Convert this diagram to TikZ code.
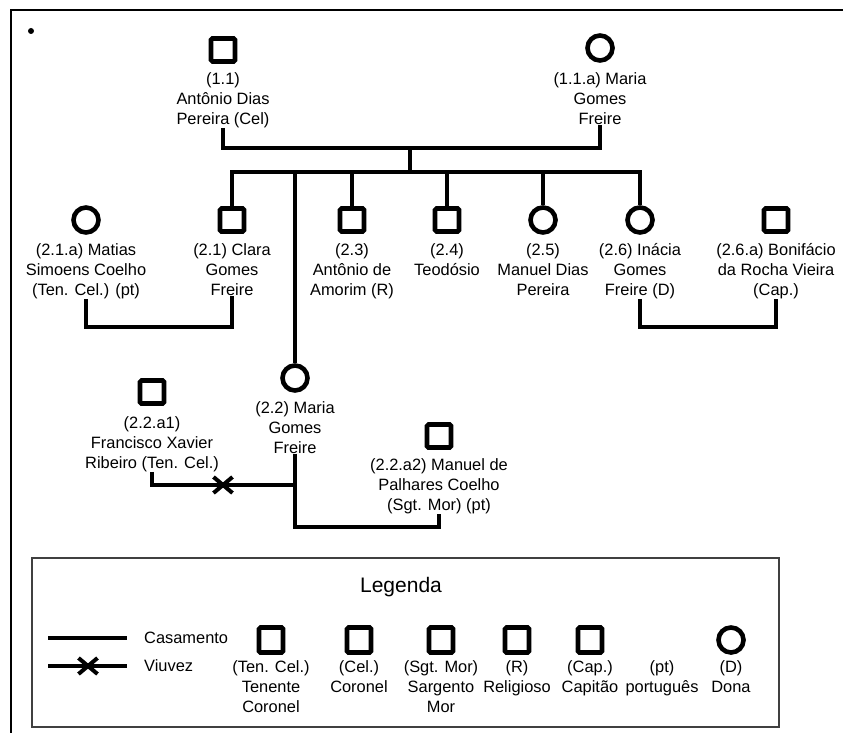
\documentclass[tikz,border=0pt]{standalone}
\usepackage{fontspec}
\setmainfont{Liberation Sans}
\usetikzlibrary{shapes.misc}
\newcommand\labfont{\fontsize{16.4}{20}\selectfont}
\begin{document}
\begin{tikzpicture}[x=1pt,y=-1pt,
  sq/.style={draw, line width=4.6pt, rounded corners=1.5pt, minimum width=24pt, minimum height=23pt, inner sep=0},
  sqL/.style={sq, minimum height=25pt},
  fem/.style={draw, circle, line width=4.6pt, minimum size=25pt, inner sep=0},
  lab/.style={align=center, anchor=north, inner sep=0, font=\labfont},
  rel/.style={line width=4.2pt},
  xmk/.style={draw, cross out, line width=4pt, minimum width=15pt, minimum height=12pt, inner sep=0},
  leglab/.style={anchor=west, inner sep=0, font=\labfont}]
\useasboundingbox (0,0) rectangle (843,733);
% frame
\draw[line width=2.6pt, line join=miter] (11,733) -- (11,10) -- (843,10);
\fill (31,31) circle (3pt);

% generation 1
\node[sq] (p11) at (223,50) {};
\node[lab] (p11l) at (223,70) {\strut(1.1)\\Antônio Dias\\Pereira (Cel)};
\node[fem] (p11a) at (600,48) {};
\node[lab] (p11al) at (600,70) {\strut(1.1.a) Maria\\Gomes\\Freire};
\coordinate (m1) at (410,148);
\coordinate (b1) at (410,172);
\draw[rel] (p11l.south) |- (m1) -| (p11al.south);
\draw[rel] (m1) -- (b1);

% generation 2
\node[fem] (p21a) at (86,220) {};
\node[sq] (p21) at (232,220) {};
\node[sq] (p23) at (352,220) {};
\node[sq] (p24) at (447,220) {};
\node[fem] (p25) at (543,220) {};
\node[fem] (p26) at (640,220) {};
\node[sq] (p26a) at (776,220) {};
\node[lab] (p21al) at (86,241) {\strut(2.1.a) Matias\\Simoens Coelho\\(Ten. Cel.) (pt)};
\node[lab] (p21l) at (232,241) {\strut(2.1) Clara\\Gomes\\Freire};
\node[lab] (p23l) at (352,241) {\strut(2.3)\\Antônio de\\Amorim (R)};
\node[lab] (p24l) at (447,241) {\strut(2.4)\\Teodósio};
\node[lab] (p25l) at (543,241) {\strut(2.5)\\Manuel Dias\\Pereira};
\node[lab] (p26l) at (640,241) {\strut(2.6) Inácia\\Gomes\\Freire (D)};
\node[lab] (p26al) at (776,241) {\strut(2.6.a) Bonifácio\\da Rocha Vieira\\(Cap.)};

\draw[rel] (p21.north) |- (b1) -| (p26.north);
\draw[rel] (p23.north) -- (p23.north |- b1);
\draw[rel] (p24.north) -- (p24.north |- b1);
\draw[rel] (p25.north) -- (p25.north |- b1);

\coordinate (c21) at (160,327);
\draw[rel] (p21al.south) |- (c21) -| (p21l.south);
\coordinate (c26) at (700,327);
\draw[rel] (p26l.south) |- (c26) -| (p26al.south);

% (2.2) branch
\node[fem] (p22) at (295,378) {};
\node[lab] (p22l) at (295,399) {\strut(2.2) Maria\\Gomes\\Freire};
\draw[rel] (p22.north) -- (p22.north |- b1);

\node[sq] (p22a1) at (152,392) {};
\node[lab] (p22a1l) at (152,414) {\strut(2.2.a1)\\Francisco Xavier\\Ribeiro (Ten. Cel.)};
\node[sq] (p22a2) at (439,436) {};
\node[lab] (p22a2l) at (439,456) {\strut(2.2.a2) Manuel de\\Palhares Coelho\\(Sgt. Mor) (pt)};

\node[xmk] (x1) at (223,485) {};
\coordinate (w1) at (295,485);
\draw[rel] (p22a1l.south) |- (x1.center) -- (w1);
\coordinate (c22) at (370,527);
\draw[rel] (p22l.south) -- (w1) |- (c22) -| (p22a2l.south);

% legend
\draw[line width=1.3pt, black!75] (32,558) rectangle (779,727);
\node[font=\fontsize{21}{25}\selectfont] (leg) at (401,587) {Legenda};
\coordinate (ca1) at (48,638);
\coordinate (ca2) at (127,638);
\draw[rel] (ca1) -- (ca2);
\node[leglab] (cas) at (144,638) {Casamento};
\coordinate (vi1) at (48,666);
\coordinate (vi2) at (127,666);
\draw[rel] (vi1) -- (vi2);
\node[xmk] (vx) at (88,666) {};
\node[leglab] (viu) at (144,666) {Viuvez};

\node[sqL] (l1) at (271,640) {};
\node[sqL] (l2) at (359,640) {};
\node[sqL] (l3) at (441,640) {};
\node[sqL] (l4) at (517,640) {};
\node[sqL] (l5) at (590,640) {};
\node[fem] (l7) at (731,640) {};
\node[lab] (l1t) at (271,658) {\strut(Ten. Cel.)\\Tenente\\Coronel};
\node[lab] (l2t) at (359,658) {\strut(Cel.)\\Coronel};
\node[lab] (l3t) at (441,658) {\strut(Sgt. Mor)\\Sargento\\Mor};
\node[lab] (l4t) at (517,658) {\strut(R)\\Religioso};
\node[lab] (l5t) at (590,658) {\strut(Cap.)\\Capitão};
\node[lab] (l6t) at (662,658) {\strut(pt)\\português};
\node[lab] (l7t) at (731,658) {\strut(D)\\Dona};
\end{tikzpicture}
\end{document}
